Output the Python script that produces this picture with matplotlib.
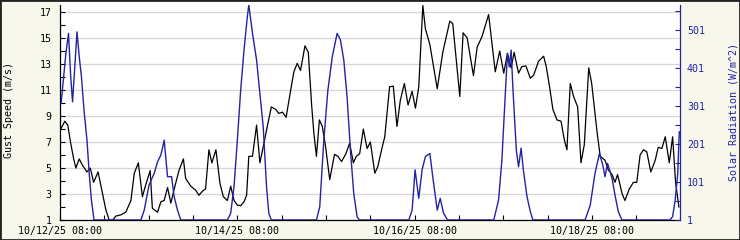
import numpy as np
import matplotlib.pyplot as plt
from matplotlib.patches import Rectangle


# hours after 10/12/25 08:00
gust_hours = [0.3, 1.3, 2.1, 2.9, 3.7, 4.3, 5.2, 6.1, 7.3, 8.2, 9.1, 10.3, 11.5, 12.4,
              13.3, 14.3, 15.1, 16.5, 17.8, 19.2, 20.1, 21.2, 22.3, 23.2, 24.4, 25.0,
              26.4, 27.3, 28.2, 29.1, 30.0, 31.1, 32.2, 33.4, 34.0, 35.4, 36.7, 37.6,
              38.5, 39.4, 40.3, 41.1, 42.2, 43.3, 44.2, 45.3, 46.2, 47.1, 48.0, 48.9,
              49.8, 50.5, 51.1, 52.1, 53.2, 54.1, 55.2, 56.1, 57.2, 58.4, 59.2, 60.2,
              61.2, 62.2, 63.3, 64.2, 65.1, 66.3, 67.2, 68.1, 68.7, 69.4, 70.2, 71.0,
              71.9, 73.0, 74.3, 75.2, 76.2, 77.3, 78.4, 79.4, 80.2, 81.1, 82.1, 83.1,
              84.0, 85.2, 86.0, 87.2, 87.9, 89.2, 90.2, 91.2, 92.1, 93.2, 94.2, 95.3,
              96.2, 97.1, 98.2, 98.9, 100.1, 102.1, 103.6, 105.5, 106.3, 108.2, 109.1,
              110.2, 111.9, 112.9, 114.2, 116.0, 116.5, 117.8, 119.0, 120.1, 121.1,
              122.1, 122.9, 124.1, 125.0, 126.1, 127.3, 128.2, 129.5, 130.9, 131.6,
              132.5, 133.4, 134.5, 135.6, 136.5, 137.2, 138.1, 139.0, 140.1, 141.0,
              141.9, 143.1, 143.9, 145.3, 146.2, 147.5, 148.4, 149.4, 150.2, 150.9,
              152.1, 152.9, 154.1, 155.2, 156.1, 157.0, 157.9, 158.8, 159.9, 161.1,
              161.9, 162.9, 163.8, 164.9, 165.8, 166.6, 167.5]
gust_speed = [8.05, 8.6, 8.3, 6.9, 5.7, 5.0, 5.7, 5.2, 4.7, 5.0, 3.9, 4.7, 3.05, 1.8,
              1.0, 1.0, 1.3, 1.4, 1.6, 2.5, 4.6, 5.4, 2.8, 3.7, 4.8, 1.9,
              1.6, 2.4, 2.5, 3.5, 2.3, 3.6, 4.8, 5.7, 4.2, 3.6, 3.3, 2.9,
              3.2, 3.4, 6.4, 5.4, 6.4, 3.8, 2.8, 2.5, 3.6, 2.5, 2.15, 2.1,
              2.4, 2.9, 5.9, 5.9, 8.3, 5.4, 6.9, 8.2, 9.7, 9.5, 9.2, 9.3,
              8.9, 10.6, 12.4, 13.05, 12.5, 14.4, 13.9, 9.85, 7.7, 5.9, 8.7, 8.2,
              6.6, 4.1, 6.05, 5.9, 5.5, 6.05, 6.9, 5.4, 5.9, 6.1, 8.0, 6.5,
              7.0, 4.6, 5.1, 6.6, 7.4, 11.25, 11.3, 8.2, 10.2, 11.5, 9.85, 10.9,
              9.6, 11.25, 17.5, 15.7, 14.5, 11.1, 13.9, 16.3, 16.1, 10.5, 15.4,
              15.0, 12.1, 14.3, 15.1, 16.8, 15.6, 12.4, 14.0, 12.3, 13.8,
              12.7, 13.9, 12.3, 12.8, 12.85, 11.9, 12.15, 13.2, 13.6, 12.8,
              11.25, 9.5, 8.7, 8.6, 7.15, 6.4, 11.5, 10.5, 9.7, 5.4,
              6.8, 12.7, 11.5, 7.9, 5.9, 5.6, 4.85, 4.5, 3.9, 4.5,
              3.05, 2.5, 3.4, 3.9, 3.9, 6.0, 6.4, 6.25, 4.7, 5.6,
              6.6, 6.5, 7.4, 5.4, 7.4, 3.9, 2.0]

solar_hours = [0.3, 1.6, 2.3, 2.9, 3.4, 4.6, 5.2, 5.8, 6.5, 7.3, 7.9, 8.5, 9.2,
               21.9, 22.8, 24.1, 25.5, 26.4, 27.3, 28.2, 29.1, 30.2, 30.9, 31.8, 32.7,
               45.3, 46.2, 47.1, 48.0, 48.9, 49.8, 50.7, 51.1, 52.1, 53.2, 54.1, 55.0,
               55.9, 56.5, 57.2,
               69.4, 70.3, 71.4, 72.5, 73.7, 75.0, 75.9, 76.8, 77.7, 78.6, 79.5, 80.4, 81.0,
               94.4, 95.3, 96.1, 97.1, 98.0, 98.9, 100.1, 101.0, 102.1, 102.9, 103.8, 104.9,
               117.4, 118.7, 119.6, 120.2, 121.1, 121.6, 122.1, 122.6, 123.5, 124.1, 124.8,
               125.4, 126.4, 127.3, 128.0,
               142.1, 143.5, 144.8, 146.0, 146.9, 147.5, 148.2, 149.4, 150.2, 151.1, 152.1,
               165.1, 165.8, 166.5, 167.2, 167.6]
solar_rad = [308, 440, 492, 378, 312, 496, 431, 378, 290, 211, 124, 54, 1,
             1, 27, 93, 124, 154, 172, 211, 115, 115, 62, 27, 1,
             1, 19, 89, 211, 343, 448, 536, 567, 492, 422, 334, 246,
             89, 19, 1,
             1, 36, 211, 343, 431, 492, 475, 422, 325, 185, 71, 10, 1,
             1, 27, 133, 58, 133, 168, 176, 106, 27, 58, 19, 1,
             1, 54, 159, 273, 440, 404, 448, 343, 185, 141, 190,
             133, 62, 23, 1,
             1, 40, 124, 176, 146, 115, 150, 111, 67, 23, 1,
             1, 10, 54, 124, 233]

label_hours = [0, 48, 96, 144]
label_text = ['10/12/25 08:00', '10/14/25 08:00', '10/16/25 08:00', '10/18/25 08:00']

bg = '#f7f7ec'
blue = '#2323a3'

plt.rcParams['font.family'] = 'DejaVu Sans Mono'
plt.rcParams['font.size'] = 7.2

fig = plt.figure(figsize=(7.4, 2.4), dpi=100, facecolor=bg)
# white plot region reaches the top a bit past the axes
fig.patches.append(Rectangle((60 / 740, 20 / 240), 620 / 740, 219 / 240,
                             transform=fig.transFigure, facecolor='white',
                             edgecolor='none', zorder=-1))
fig.patches.append(Rectangle((0, 0), 1, 1, transform=fig.transFigure, fill=False,
                             edgecolor='#222222', lw=2, zorder=5))

ax = fig.add_axes([60 / 740, 20 / 240, 620 / 740, 215 / 240])
ax2 = ax.twinx()

ax.plot(gust_hours, gust_speed, color='black', lw=0.9, zorder=3)
ax2.plot(solar_hours, solar_rad, color=blue, lw=1.0)

ax.set_xlim(0.25, 167.8)
ax.set_ylim(1, 17.54)
ax2.set_ylim(1, 566.8)

# left axis
ax.set_yticks(np.arange(1, 18, 2))
ax.set_yticks(np.arange(2, 17, 2), minor=True)
ax.yaxis.grid(True, color='#d6d6d6', lw=0.9)
ax.set_axisbelow(True)
ax.tick_params(axis='y', which='both', direction='in', length=3.5, width=0.8, pad=6)
ax.set_ylabel('Gust Speed (m/s)')
ax.yaxis.set_label_coords((14 - 60) / 620, 0.51)

# bottom axis: tick every 12 hours, label every 2 days
ax.set_xticks(np.arange(0, 168, 12))
ax.set_xticklabels([label_text[label_hours.index(h)] if h in label_hours else ''
                    for h in range(0, 168, 12)])
ax.tick_params(axis='x', direction='in', length=3.5, width=0.8, pad=4.5)

for s in ['top', 'right']:
    ax.spines[s].set_visible(False)
ax.spines['left'].set_linewidth(0.9)
ax.spines['bottom'].set_linewidth(0.9)

# right axis
ax2.set_yticks(np.arange(1, 502, 100))
ax2.set_yticks(np.arange(51, 560, 100), minor=True)
ax2.tick_params(axis='y', which='both', direction='in', length=3.5, width=0.8,
                pad=5, colors=blue, labelcolor=blue)
ax2.set_ylabel('Solar Radiation (W/m^2)', color=blue)
ax2.yaxis.set_label_coords((728 - 60) / 620, 0.5)
for s in ['top', 'left', 'bottom']:
    ax2.spines[s].set_visible(False)
ax2.spines['right'].set_color(blue)
ax2.spines['right'].set_linewidth(0.9)

fig.savefig('out.png', dpi=100, facecolor=bg)
